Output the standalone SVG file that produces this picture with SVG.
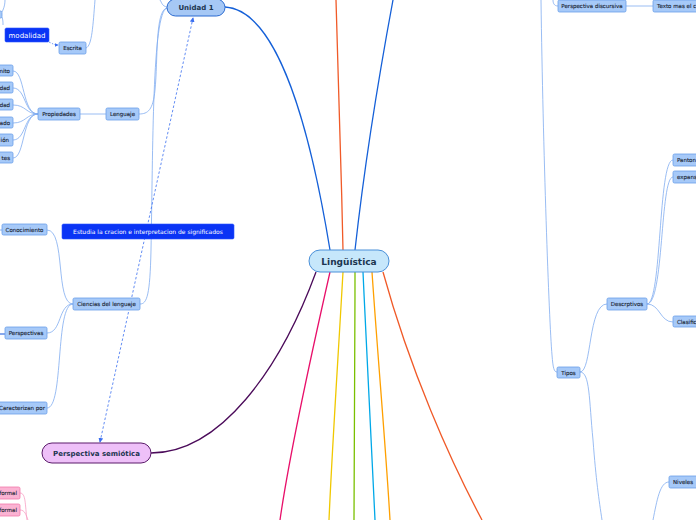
<svg xmlns="http://www.w3.org/2000/svg" width="696" height="520" viewBox="0 0 696 520">
<style>
.sub{fill:#a6c9f8;stroke:#6b9fe8;stroke-width:0.8}
.st{font-family:"DejaVu Sans",sans-serif;font-size:5.5px;fill:#1a2533;text-anchor:middle;stroke:#1a2533;stroke-width:0.12}
.sl{fill:none;stroke:#80acf0;stroke-width:0.8}
.pk{fill:#fbb3d3;stroke:#f27aab;stroke-width:0.8}
.pl{fill:none;stroke:#f7a0c4;stroke-width:0.8}
.dk{fill:#0a34f5;stroke:#2a55ff;stroke-width:0.6}
.wt{font-family:"DejaVu Sans",sans-serif;fill:#ffffff}
.mt{font-family:"DejaVu Sans",sans-serif;font-weight:bold;fill:#1c3550;text-anchor:middle}
</style>
<defs>
<marker id="ar" viewBox="0 0 6 6" refX="5" refY="3" markerWidth="6" markerHeight="6" orient="auto-start-reverse">
<path d="M0,0 L6,3 L0,6 z" fill="#3a6ef0"/>
</marker>
</defs>
<g id="connectors">
<path d="M330,250 C312,140 280,10 225,7" fill="none" stroke="#1560d8" stroke-width="1.3"/>
<path d="M343,250 C341,160 338,60 336,0" fill="none" stroke="#f05a28" stroke-width="1.3"/>
<path d="M355,250 C365,160 380,70 393,0" fill="none" stroke="#1560d8" stroke-width="1.3"/>
<path d="M316,272 C280,370 220,453 151,453" fill="none" stroke="#4b0b5a" stroke-width="1.3"/>
<path d="M330,272 C310,360 290,450 280,520" fill="none" stroke="#e8106a" stroke-width="1.3"/>
<path d="M343,272 C338,360 332,450 329,520" fill="none" stroke="#f0c800" stroke-width="1.3"/>
<path d="M355,272 C355,360 354,450 354,520" fill="none" stroke="#7ac000" stroke-width="1.3"/>
<path d="M363,272 C367,360 372,450 375,520" fill="none" stroke="#00a8e8" stroke-width="1.3"/>
<path d="M372,272 C378,360 386,450 390,520" fill="none" stroke="#ffa000" stroke-width="1.3"/>
<path d="M383,272 C410,370 450,460 482,520" fill="none" stroke="#f05a28" stroke-width="1.3"/>
<path class="sl" d="M167,7 C162,6 162,3 160,0"/>
<path class="sl" d="M167,8 C155,10 158,60 155,90 C153,110 148,114 139,114"/>
<path class="sl" d="M167,8 C152,12 153,150 151,250 C150,295 147,304 140,304"/>
<path class="sl" d="M86,48 C92,46 93,25 95,0"/>
<path class="sl" d="M5,0 C5,6 3,10 2,12"/>
<path class="sl" d="M2,17 C3,20 3,22 3,25"/>
<path class="sl" d="M80,114 L106,114"/>
<path class="sl" d="M38,114 C22,114 25,71 13,71"/>
<path class="sl" d="M38,114 C24,114 26,88 13,88"/>
<path class="sl" d="M38,114 C26,114 26,105 13,105"/>
<path class="sl" d="M38,114 C26,114 26,123 13,123"/>
<path class="sl" d="M38,114 C24,114 26,140 13,140"/>
<path class="sl" d="M38,114 C22,114 25,158 13,158"/>
<path class="sl" d="M73,304 C55,304 66,230 47,230"/>
<path class="sl" d="M73,304 C58,304 62,333 47,333"/>
<path class="sl" d="M73,304 C55,304 64,408 47,408"/>
<path d="M0,334 L5,334" stroke="#3a6ee0" stroke-width="1.2"/>
<path d="M0,230 L2,230" stroke="#6b9fe8" stroke-width="0.8"/>
<path d="M49,42 C53,44 55,45 58,45" fill="none" stroke="#3a6ef0" stroke-width="0.7" stroke-dasharray="1.5,1.5" marker-end="url(#ar)"/>
<path d="M100,442 L193,18" fill="none" stroke="#3a6ef0" stroke-width="0.8" stroke-dasharray="2.5,2" marker-start="url(#ar)" marker-end="url(#ar)"/>
<path class="pl" d="M20,493 C26,493 25,505 27,520"/>
<path class="pl" d="M20,510 C25,510 26,515 28,520"/>
<path class="sl" d="M626,6 L653,6"/>
<path class="sl" d="M558,6 C554,6 553,3 553,0"/>
<path class="sl" d="M541,0 C543,150 549,320 552,355 C553,368 554,372 557,372"/>
<path class="sl" d="M580,372 C592,372 588,304 607,304"/>
<path class="sl" d="M580,372 C590,372 589,400 593,440 C596,480 599,500 602,520"/>
<path class="sl" d="M647,304 C662,304 658,160 673,160"/>
<path class="sl" d="M647,304 C664,304 660,177 673,177"/>
<path class="sl" d="M647,304 C660,304 660,322 673,322"/>
<path class="sl" d="M669,482 C660,482 657,500 653,520"/>
</g>
<g id="n-center"><rect x="309" y="250" width="80" height="22" rx="11" fill="#c6e7fb" stroke="#4a90d9" stroke-width="1"/><text class="mt" x="349" y="264.5" font-size="9">Lingüística</text></g>
<g id="n-unidad1"><rect x="167" y="-1" width="58" height="17" rx="8.5" fill="#a6c8f5" stroke="#2a6ad0" stroke-width="1"/><text class="mt" x="196" y="10" font-size="7">Unidad 1</text></g>
<g id="n-semiotica"><rect x="42" y="443" width="109" height="20" rx="10" fill="#eec0f8" stroke="#5a1a6a" stroke-width="1"/><text class="mt" x="96.5" y="455.5" font-size="7">Perspectiva semiótica</text></g>
<g id="n-tl"><rect class="sub" x="-20" y="11" width="22" height="7" rx="1.5"/></g>
<g id="n-modalidad"><rect class="dk" x="5" y="28" width="44" height="14" rx="1.5"/><text class="wt" x="27" y="37.5" font-size="7" text-anchor="middle">modalidad</text></g>
<g id="n-escrita"><rect class="sub" x="59" y="42" width="27" height="12" rx="1.5"/><text class="st" x="72.5" y="50">Escrita</text></g>
<g id="n-lenguaje"><rect class="sub" x="106" y="108" width="33" height="12" rx="1.5"/><text class="st" x="122.5" y="116">Lenguaje</text></g>
<g id="n-propiedades"><rect class="sub" x="38" y="108" width="42" height="12" rx="1.5"/><text class="st" x="59" y="116">Propiedades</text></g>
<g id="n-p1"><rect class="sub" x="-20" y="65" width="33" height="11" rx="1.5"/><text class="st" x="10" y="72.5" style="text-anchor:end">nito</text></g>
<g id="n-p2"><rect class="sub" x="-20" y="82" width="33" height="11" rx="1.5"/><text class="st" x="10" y="89.5" style="text-anchor:end">dad</text></g>
<g id="n-p3"><rect class="sub" x="-20" y="99" width="33" height="11" rx="1.5"/><text class="st" x="10" y="106.5" style="text-anchor:end">dad</text></g>
<g id="n-p4"><rect class="sub" x="-20" y="117" width="33" height="11" rx="1.5"/><text class="st" x="10" y="124.5" style="text-anchor:end">ado</text></g>
<g id="n-p5"><rect class="sub" x="-20" y="134" width="33" height="12" rx="1.5"/><text class="st" x="9" y="142" style="text-anchor:end">ión</text></g>
<g id="n-p6"><rect class="sub" x="-20" y="152" width="33" height="11" rx="1.5"/><text class="st" x="10" y="159.5" style="text-anchor:end">tes</text></g>
<g id="n-estudia"><rect class="dk" x="62" y="224" width="172" height="15" rx="1.5"/><text class="wt" x="148" y="233.8" font-size="6" text-anchor="middle">Estudia la cracion e interpretacion de significados</text></g>
<g id="n-ciencias"><rect class="sub" x="73" y="298" width="67" height="12" rx="1.5"/><text class="st" x="106.5" y="306">Ciencias del lenguaje</text></g>
<g id="n-conocimiento"><rect class="sub" x="2" y="224" width="45" height="11" rx="1.5"/><text class="st" x="24.5" y="231.5">Conocimiento</text></g>
<g id="n-perspectivas"><rect class="sub" x="5" y="327" width="42" height="12" rx="1.5"/><text class="st" x="26" y="335">Perspectivas</text></g>
<g id="n-caracterizan"><rect class="sub" x="-3" y="402" width="50" height="12" rx="1.5"/><text class="st" x="22" y="410">Caracterizan por</text></g>
<g id="n-formal1"><rect class="pk" x="-20" y="487" width="40" height="12" rx="1.5"/><text class="st" x="17" y="495" style="text-anchor:end">formal</text></g>
<g id="n-formal2"><rect class="pk" x="-20" y="504" width="40" height="12" rx="1.5"/><text class="st" x="17" y="512" style="text-anchor:end">formal</text></g>
<g id="n-discursiva"><rect class="sub" x="558" y="0" width="68" height="12" rx="1.5"/><text class="st" x="592" y="8">Perspectiva discursiva</text></g>
<g id="n-texto"><rect class="sub" x="653" y="0" width="60" height="12" rx="1.5"/><text class="st" x="657" y="8" style="text-anchor:start">Texto mas el c</text></g>
<g id="n-tipos"><rect class="sub" x="557" y="367" width="23" height="11" rx="1.5"/><text class="st" x="568.5" y="374.5">Tipos</text></g>
<g id="n-descrptivos"><rect class="sub" x="607" y="298" width="40" height="12" rx="1.5"/><text class="st" x="627" y="306">Descrptivos</text></g>
<g id="n-panton"><rect class="sub" x="673" y="154" width="30" height="12" rx="1.5"/><text class="st" x="677" y="162" style="text-anchor:start">Panton</text></g>
<g id="n-expans"><rect class="sub" x="673" y="171" width="30" height="12" rx="1.5"/><text class="st" x="677" y="179" style="text-anchor:start">expans</text></g>
<g id="n-clasific"><rect class="sub" x="673" y="316" width="30" height="11" rx="1.5"/><text class="st" x="677" y="323.5" style="text-anchor:start">Clasific</text></g>
<g id="n-niveles"><rect class="sub" x="669" y="476" width="34" height="12" rx="1.5"/><text class="st" x="673" y="484" style="text-anchor:start">Niveles</text></g>
</svg>
